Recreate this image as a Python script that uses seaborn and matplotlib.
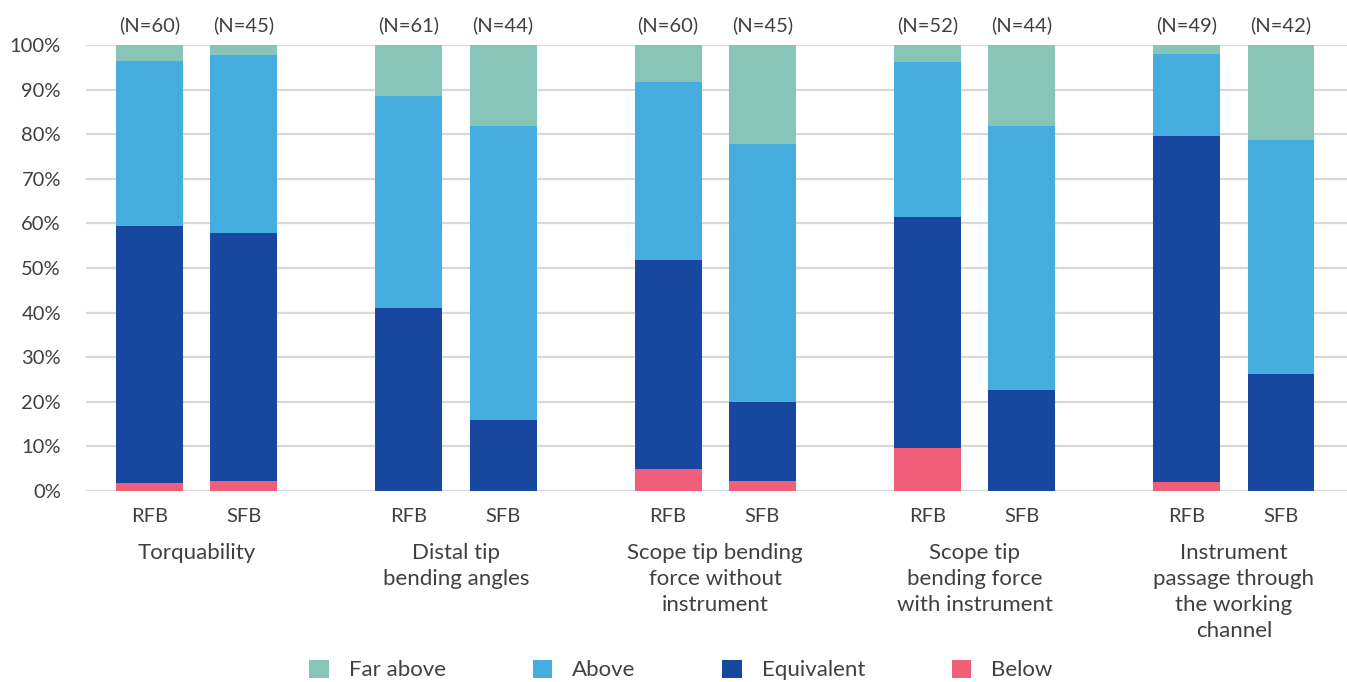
import numpy as np
import pandas as pd
import matplotlib
matplotlib.use("Agg")
from matplotlib import pyplot as plt
from matplotlib.patches import Patch
import seaborn as sns

groups = ["Torquability", "Distal tip\nbending angles", "Scope tip bending\nforce without\ninstrument",
          "Scope tip\nbending force\nwith instrument", "Instrument\npassage through\nthe working\nchannel"]
devices = ["RFB", "SFB"]
n_counts = [60, 45, 61, 44, 60, 45, 52, 44, 49, 42]

# percentages per bar (RFB, SFB for each group)
below = [1.7, 2.2, 0.0, 0.0, 5.0, 2.2, 9.6, 0.0, 2.0, 0.0]
equivalent = [57.8, 55.6, 41.0, 15.9, 46.7, 17.8, 51.9, 22.7, 77.6, 26.2]
above = [37.0, 40.0, 47.5, 65.9, 40.0, 57.8, 34.6, 59.1, 18.4, 52.4]
far_above = [3.5, 2.2, 11.5, 18.2, 8.3, 22.2, 3.9, 18.2, 2.0, 21.4]

series = ["Far above", "Above", "Equivalent", "Below"]
colors = {"Far above": "#86C5B8", "Above": "#46ADE1", "Equivalent": "#17479E", "Below": "#F05E7A"}
text_color = "#404040"

group_step = 2.75
pos = [g * group_step + k for g in range(len(groups)) for k in range(len(devices))]

df = pd.DataFrame({"pos": pos, "Below": below, "Equivalent": equivalent,
                   "Above": above, "Far above": far_above})
# cumulative heights, drawn from the top layer down
df["c_below"] = df["Below"]
df["c_equivalent"] = df["c_below"] + df["Equivalent"]
df["c_above"] = df["c_equivalent"] + df["Above"]
df["c_far"] = df["c_above"] + df["Far above"]

sns.set_theme(style="white")
plt.rcParams["font.family"] = ["Lato", "DejaVu Sans"]

fig = plt.figure(figsize=(13.47, 6.82), dpi=100)
ax = fig.add_axes([86 / 1347, 1 - 491 / 682, 1 - 86 / 1347, 446 / 682])

for col, name in [("c_far", "Far above"), ("c_above", "Above"),
                  ("c_equivalent", "Equivalent"), ("c_below", "Below")]:
    sns.barplot(data=df, x="pos", y=col, color=colors[name], native_scale=True,
                width=0.71, errorbar=None, linewidth=0, saturation=1, ax=ax, zorder=3)

ax.set_ylim(0, 100)
ax.set_xlim(-0.673, 12.70)
ax.set_yticks(np.arange(0, 101, 10))
ax.set_yticklabels([f"{v}%" for v in range(0, 101, 10)])
ax.yaxis.grid(True, color="#D9D9D9", linewidth=1.6, zorder=0)
ax.set_axisbelow(True)
for s in ax.spines.values():
    s.set_visible(False)

ax.set_xticks(pos)
ax.set_xticklabels(devices * len(groups))
ax.tick_params(axis="both", length=0, labelsize=14.5, labelcolor=text_color)
ax.tick_params(axis="y", pad=18)
ax.tick_params(axis="x", pad=12)
ax.set_xlabel("")
ax.set_ylabel("")

for p, n in zip(pos, n_counts):
    ax.text(p, 104.4, f"(N={n})", ha="center", va="center", fontsize=14.5,
            color=text_color, clip_on=False)

for g, name in enumerate(groups):
    ax.text(g * group_step + 0.5, -0.117, name, transform=ax.get_xaxis_transform(),
            ha="center", va="top", fontsize=16, color=text_color, linespacing=1.38)

handles = [Patch(facecolor=colors[s], edgecolor="none") for s in series]
fig.legend(handles, series, loc="center", bbox_to_anchor=(681 / 1347, 1 - 670 / 682),
           ncol=4, frameon=False, fontsize=16, labelcolor=text_color,
           handlelength=0.88, handleheight=0.88, handletextpad=0.9, columnspacing=3.9)

fig.savefig("out.png", dpi=100)
